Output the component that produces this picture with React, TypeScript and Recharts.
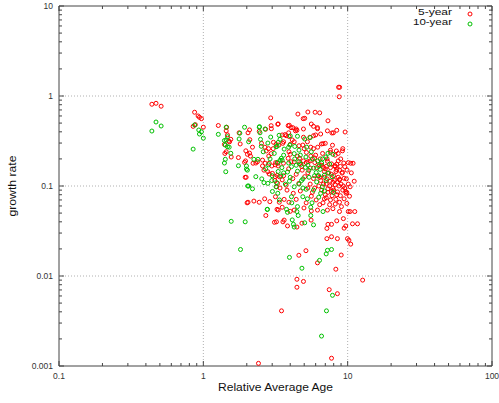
import React from 'react';
import {
    ScatterChart,
    Scatter,
    XAxis,
    YAxis,
    ReferenceLine,
    ReferenceArea
} from 'recharts';

// relative average age / growth rate
const fiveYear: [number, number][] = [
    [0.44, 0.81], [0.47, 0.83], [0.51, 0.77],
    [0.87, 0.66], [0.92, 0.6], [0.94, 0.58], [0.97, 0.56], [0.85, 0.46], [1.0, 0.45], [0.88, 0.48],
    [1.27, 0.47], [1.45, 0.45], [1.44, 0.41], [1.47, 0.37], [1.4, 0.29], [1.44, 0.24], [1.52, 0.31],
    [1.55, 0.33], [1.56, 0.21], [1.41, 0.23], [1.5, 0.315],
    [1.75, 0.207], [1.77, 0.39], [1.8, 0.293], [1.97, 0.246], [1.96, 0.19], [1.98, 0.125], [2.02, 0.225],
    [2.01, 0.065],
    [2.09, 0.42], [2.04, 0.39], [2.1, 0.327], [2.19, 0.27], [2.09, 0.232], [2.12, 0.215], [2.57, 0.194],
    [2.7, 0.427], [2.96, 0.433], [2.93, 0.571], [3.28, 0.485], [2.53, 0.298], [2.67, 0.27], [2.83, 0.26],
    [3.05, 0.26], [2.73, 0.245], [2.95, 0.229], [2.84, 0.215],
    [1.93, 0.183], [2.21, 0.179], [2.31, 0.18], [2.37, 0.186], [2.57, 0.167], [2.68, 0.179], [2.86, 0.179],
    [2.98, 0.167], [3.15, 0.172], [3.28, 0.179], [2.63, 0.15], [2.8, 0.144], [2.86, 0.136], [3.01, 0.138],
    [3.15, 0.127], [3.25, 0.131], [3.36, 0.127], [1.95, 0.125], [3.21, 0.098], [2.04, 0.066], [2.24, 0.068],
    [2.44, 0.066], [2.66, 0.072], [2.89, 0.067], [3.36, 0.066], [2.71, 0.047], [3.21, 0.04], [3.24, 0.055],
    [2.41, 0.00107], [3.48, 0.0041], [4.45, 0.0092], [4.94, 0.0087], [4.45, 0.0075], [4.59, 0.017],
    [5.14, 0.0191], [6.18, 0.014], [8.28, 0.0119], [7.45, 0.00705], [8.49, 0.00636], [7.73, 0.00122],
    [9.02, 0.0171], [12.7, 0.009], [7.18, 0.026], [8.49, 0.026], [7.73, 0.0273], [9.97, 0.026], [10.2, 0.025],
    [10.5, 0.0226], [10.8, 0.038], [11.7, 0.038], [9.7, 0.036], [9.45, 0.034], [7.3, 0.0375], [7.73, 0.0375],
    [7.18, 0.0338], [5.58, 0.0418], [4.82, 0.0386], [4.45, 0.035], [3.63, 0.0418], [3.11, 0.0395],
    [3.3, 0.0541], [4.0, 0.0523], [5.6, 0.0528], [8.4, 0.041], [9.34, 0.0434], [11.2, 0.052], [10.4, 0.052],
    [8.65, 1.25], [8.8, 1.25], [8.74, 0.98], [4.52, 0.63], [5.3, 0.664], [5.95, 0.66], [6.4, 0.65],
    [4.92, 0.56], [7.3, 0.53], [3.94, 0.473], [5.6, 0.488], [2.95, 0.468], [4.17, 0.445], [6.18, 0.445],
    [8.4, 0.416], [9.6, 0.398], [7.78, 0.388], [2.44, 0.405], [3.68, 0.372], [4.45, 0.416], [4.94, 0.348],
    [5.47, 0.348], [6.0, 0.369], [6.58, 0.293], [7.0, 0.298], [7.85, 0.284], [8.35, 0.245], [9.25, 0.26],
    [9.2, 0.246], [10.1, 0.182], [10.5, 0.179], [10.9, 0.179], [11.1, 0.113], [7.6, 0.236], [8.17, 0.168],
    [8.4, 0.152], [9.2, 0.142], [9.45, 0.122], [9.34, 0.1], [9.7, 0.087], [9.87, 0.085], [8.8, 0.119],
    [8.49, 0.111], [7.3, 0.093], [7.73, 0.087],
    [5.04, 0.565], [3.3, 0.49], [3.87, 0.468], [4.05, 0.445], [4.4, 0.43], [4.94, 0.43], [5.8, 0.46],
    [6.18, 0.433], [6.5, 0.378], [5.8, 0.362], [7.96, 0.39], [7.24, 0.41], [3.52, 0.369], [3.75, 0.362],
    [3.92, 0.355], [3.6, 0.31], [4.26, 0.31], [4.0, 0.29], [5.26, 0.31], [4.89, 0.285], [5.55, 0.27],
    [5.8, 0.26], [6.75, 0.295], [7.6, 0.25], [8.2, 0.22], [8.95, 0.2], [6.0, 0.22], [6.45, 0.2],
    [5.55, 0.215], [5.18, 0.236], [4.94, 0.19], [4.49, 0.214], [4.64, 0.203], [3.92, 0.24], [4.0, 0.225],
    [3.87, 0.203], [4.05, 0.186], [5.32, 0.186], [3.19, 0.29], [3.34, 0.285],
    [4.35, 0.41], [3.06, 0.306], [3.55, 0.298], [4.13, 0.325],
    [3.17, 0.182], [3.3, 0.167], [3.59, 0.179], [4.26, 0.185], [4.64, 0.176], [5.16, 0.182], [5.5, 0.158],
    [5.92, 0.182], [6.38, 0.172], [6.8, 0.161], [7.24, 0.188], [7.73, 0.176], [8.2, 0.164], [9.55, 0.164],
    [9.15, 0.139], [8.78, 0.15], [4.84, 0.15],
    [3.13, 0.115], [3.27, 0.107], [3.52, 0.117], [3.75, 0.102], [4.17, 0.121], [4.59, 0.107], [5.04, 0.127],
    [5.5, 0.105], [5.8, 0.121], [6.5, 0.115], [7.1, 0.105], [7.55, 0.113], [7.9, 0.095], [8.2, 0.103],
    [8.78, 0.117], [9.25, 0.09], [9.55, 0.095], [9.75, 0.083], [10.4, 0.098], [8.5, 0.086],
    [3.16, 0.076], [3.63, 0.071], [3.92, 0.066], [4.4, 0.071], [5.16, 0.065], [5.6, 0.077], [6.05, 0.07],
    [6.75, 0.065], [7.1, 0.074], [7.6, 0.07], [8.28, 0.071], [8.78, 0.066], [9.45, 0.072], [9.05, 0.059],
    [9.87, 0.064], [4.98, 0.057], [3.52, 0.058], [4.26, 0.054], [6.18, 0.054], [7.24, 0.054], [7.9, 0.056],
    [8.78, 0.052], [10.1, 0.052], [3.56, 0.04], [3.83, 0.036],
    [6.2, 0.13], [6.9, 0.125], [7.4, 0.14], [8.0, 0.13], [8.6, 0.125], [6.6, 0.09], [7.0, 0.08], [7.8, 0.078],
    [8.4, 0.08], [5.9, 0.095], [6.3, 0.1], [7.5, 0.1], [8.1, 0.115], [9.0, 0.105], [5.3, 0.14], [6.1, 0.16],
    [7.0, 0.155], [8.6, 0.19], [9.4, 0.18], [10.6, 0.14], [10.1, 0.105], [10.3, 0.077],
    [6.6, 0.17], [7.1, 0.165], [7.6, 0.16], [8.4, 0.175], [8.9, 0.165], [6.9, 0.145], [7.7, 0.135],
    [8.3, 0.145], [6.4, 0.125], [7.2, 0.12], [7.9, 0.11], [8.7, 0.1], [6.8, 0.105], [7.3, 0.085], [8.0, 0.09],
    [8.9, 0.078], [6.9, 0.072], [7.5, 0.062], [8.2, 0.063], [6.4, 0.062], [5.7, 0.085], [5.3, 0.095],
    [4.7, 0.088], [4.2, 0.083], [3.8, 0.09], [3.4, 0.095], [3.6, 0.13], [3.9, 0.155], [4.4, 0.135],
    [4.8, 0.165], [5.5, 0.19], [5.9, 0.205], [6.7, 0.23], [5.0, 0.26], [4.6, 0.28], [3.9, 0.39], [6.2, 0.27],
    [7.2, 0.2], [8.6, 0.23], [9.8, 0.12], [9.9, 0.15]
];

const tenYear: [number, number][] = [
    [0.47, 0.514], [0.44, 0.408], [0.51, 0.464],
    [0.87, 0.476], [0.93, 0.419], [0.97, 0.4], [0.94, 0.378], [1.0, 0.34], [0.85, 0.257],
    [1.27, 0.375], [1.44, 0.45], [1.44, 0.325], [1.47, 0.353], [1.47, 0.273], [1.42, 0.198], [1.4, 0.18],
    [1.43, 0.144], [1.55, 0.231], [1.77, 0.333], [1.75, 0.168], [1.93, 0.45], [1.99, 0.167], [2.02, 0.15],
    [2.03, 0.1], [1.56, 0.0405], [1.95, 0.04], [1.81, 0.0197], [1.4, 0.32], [1.51, 0.27], [1.42, 0.285],
    [1.79, 0.386], [2.06, 0.31], [2.24, 0.198], [2.39, 0.198], [2.44, 0.45], [2.47, 0.39], [2.93, 0.35],
    [2.49, 0.33], [2.52, 0.276], [3.3, 0.305], [3.24, 0.276],
    [1.99, 0.154], [2.83, 0.172], [2.31, 0.127], [2.54, 0.12], [2.63, 0.109], [2.8, 0.107], [2.98, 0.115],
    [3.21, 0.109], [2.06, 0.1], [2.19, 0.093], [3.01, 0.087], [2.77, 0.055], [3.28, 0.083],
    [4.82, 0.0122], [3.95, 0.0161], [6.38, 0.0149], [7.1, 0.0176], [7.24, 0.0193], [7.73, 0.0197],
    [7.85, 0.0061], [7.13, 0.0041], [6.59, 0.00215], [5.8, 0.037], [5.04, 0.039], [4.21, 0.0375],
    [4.13, 0.042], [2.78, 0.055], [3.77, 0.055], [4.45, 0.052], [4.54, 0.047],
    [2.45, 0.456], [2.68, 0.43], [3.35, 0.366], [4.0, 0.36], [7.3, 0.231], [7.06, 0.21],
    [4.49, 0.357], [5.04, 0.333], [5.5, 0.345], [7.9, 0.225], [5.14, 0.21], [4.26, 0.229], [3.63, 0.257],
    [3.47, 0.203], [3.52, 0.193], [3.26, 0.183], [4.59, 0.186], [4.74, 0.174], [3.19, 0.273], [3.98, 0.285],
    [3.4, 0.193], [3.83, 0.143], [4.08, 0.164], [4.4, 0.17], [4.49, 0.146], [5.1, 0.161], [5.38, 0.149],
    [5.8, 0.158], [6.05, 0.141], [6.45, 0.153], [6.9, 0.132], [7.3, 0.139], [7.8, 0.127],
    [3.19, 0.098], [3.44, 0.129], [3.95, 0.113], [4.26, 0.098], [4.79, 0.115], [5.16, 0.092], [6.1, 0.111],
    [6.68, 0.098], [6.9, 0.088], [6.5, 0.083], [7.96, 0.085],
    [3.37, 0.07], [4.08, 0.076], [4.89, 0.076], [5.26, 0.072], [5.66, 0.065], [6.3, 0.075], [5.55, 0.058],
    [4.49, 0.059], [3.83, 0.051], [6.75, 0.052], [5.55, 0.047], [4.26, 0.035],
    [2.6, 0.24], [2.9, 0.2], [3.1, 0.23], [3.6, 0.22], [3.9, 0.27], [4.6, 0.25], [5.6, 0.24], [6.2, 0.19],
    [6.7, 0.2], [5.9, 0.13], [4.9, 0.12], [3.6, 0.14],
    [3.5, 0.16], [3.9, 0.18], [4.3, 0.2], [4.7, 0.22], [5.3, 0.17], [5.7, 0.2], [6.3, 0.165], [6.6, 0.18],
    [7.5, 0.175], [4.0, 0.125], [4.6, 0.105], [5.4, 0.125], [6.3, 0.13], [7.1, 0.115], [5.8, 0.09],
    [4.9, 0.095], [3.7, 0.105], [3.0, 0.13], [2.7, 0.155], [3.3, 0.145], [4.3, 0.275], [3.4, 0.33],
    [2.8, 0.3], [5.2, 0.27], [4.1, 0.065]
];

const xMajor = [0.1, 1, 10, 100];
const xLabels = ['0.1', '1', '10', '100'];
const yMajor = [0.001, 0.01, 0.1, 1, 10];
const yLabels = ['0.001', '0.01', '0.1', '1', '10'];
const xGrid = [1, 10];
const yGrid = [0.01, 0.1, 1];
const seriesNames = ['5-year', '10-year'];

const RED = '#ff0000';
const GREEN = '#00c000';

const PLOT_LEFT = 59;
const PLOT_RIGHT = 492;
const PLOT_TOP = 6;
const PLOT_BOTTOM = 366;

const FONT = 'Liberation Sans, Arial, sans-serif';

// log minor ticks 2..9 in each decade
const withMinor = (major: number[]) => {
    const out: number[] = [];
    major.forEach((m, i) => {
        out.push(m);
        if (i < major.length - 1) {
            for (let k = 2; k <= 9; k++) out.push(Number((m * k).toPrecision(3)));
        }
    });
    return out;
};

const xTicks = withMinor(xMajor);
const yTicks = withMinor(yMajor);

const toPoints = (arr: [number, number][]) => arr.map(([x, y]) => ({ x, y }));

const tickColor = '#444';

const XTick = (props: any) => {
    const { x, payload } = props;
    const idx = xMajor.indexOf(payload.value);
    const len = idx >= 0 ? 5 : 3;
    return (
        <g>
            <line x1={x} x2={x} y1={PLOT_BOTTOM} y2={PLOT_BOTTOM - len} stroke={tickColor} />
            <line x1={x} x2={x} y1={PLOT_TOP} y2={PLOT_TOP + len} stroke={tickColor} />
            {idx >= 0 && (
                <text x={x} y={PLOT_BOTTOM + 12.5} textAnchor="middle" fontSize={8.5} fill="#333" fontFamily={FONT}>
                    {xLabels[idx]}
                </text>
            )}
        </g>
    );
};

const YTick = (props: any) => {
    const { y, payload } = props;
    const idx = yMajor.indexOf(payload.value);
    const len = idx >= 0 ? 5 : 3;
    return (
        <g>
            <line x1={PLOT_LEFT} x2={PLOT_LEFT + len} y1={y} y2={y} stroke={tickColor} />
            <line x1={PLOT_RIGHT} x2={PLOT_RIGHT - len} y1={y} y2={y} stroke={tickColor} />
            {idx >= 0 && (
                <text x={53} y={y + 3} textAnchor="end" fontSize={8.5} fill="#333" fontFamily={FONT}>
                    {yLabels[idx]}
                </text>
            )}
        </g>
    );
};

// gnuplot's font is wide but short, so stretch a smaller font
const XTitle = () => (
    <text x={(PLOT_LEFT + PLOT_RIGHT) / 2} y={391} textAnchor="middle" fontSize={10.5} fill="#111"
        fontFamily={FONT} textLength={115} lengthAdjust="spacingAndGlyphs">
        Relative Average Age
    </text>
);

const YTitle = () => (
    <text x={186} y={16} textAnchor="middle" fontSize={10.5} fill="#111" transform="rotate(-90) translate(-372 0)"
        fontFamily={FONT} textLength={61} lengthAdjust="spacingAndGlyphs">
        growth rate
    </text>
);

const dot = (color: string) => (props: any) => (
    <circle cx={props.cx} cy={props.cy} r={2} fill="none" stroke={color} strokeWidth={1} />
);

const legendWidths = [34, 39];

const App = () => {
    return (
        <div style={{ position: 'absolute', left: 0, top: 0, width: 499, height: 403, background: '#fff' }}>
            <ScatterChart width={499} height={403} margin={{ top: 6, right: 7, bottom: 0, left: 0 }}>
                <XAxis type="number" dataKey="x" scale="log" domain={[0.1, 100]} allowDataOverflow
                    ticks={xTicks} interval={0} tick={<XTick />} tickLine={false} axisLine={false}
                    height={37} label={<XTitle />} />
                <YAxis type="number" dataKey="y" scale="log" domain={[0.001, 10]} allowDataOverflow
                    ticks={yTicks} interval={0} tick={<YTick />} tickLine={false} axisLine={false}
                    width={59} label={<YTitle />} />
                {xGrid.map(v => (
                    <ReferenceLine key={'gx' + v} x={v} stroke="#b0b0b0" strokeDasharray="1 2" />
                ))}
                {yGrid.map(v => (
                    <ReferenceLine key={'gy' + v} y={v} stroke="#b0b0b0" strokeDasharray="1 2" />
                ))}
                <ReferenceArea x1={0.1} x2={100} y1={0.001} y2={10} fill="none" fillOpacity={0}
                    stroke="#444" strokeWidth={1} />
                <Scatter name={seriesNames[0]} data={toPoints(fiveYear)} shape={dot(RED)} isAnimationActive={false} />
                <Scatter name={seriesNames[1]} data={toPoints(tenYear)} shape={dot(GREEN)} isAnimationActive={false} />
            </ScatterChart>
            <div style={{ position: 'absolute', left: 0, top: 0, pointerEvents: 'none' }}>
                <svg width={499} height={403}>
                    {seriesNames.map((name, i) => (
                        <g key={name}>
                            <text x={452} y={14.5 + i * 10} textAnchor="end" fontSize={9.5} fill="#111"
                                fontFamily={FONT} textLength={legendWidths[i]} lengthAdjust="spacingAndGlyphs">
                                {name}
                            </text>
                            <circle cx={470} cy={14 + i * 10} r={2} fill="none" stroke={i === 0 ? RED : GREEN} />
                        </g>
                    ))}
                </svg>
            </div>
        </div>
    );
};

export default App;
